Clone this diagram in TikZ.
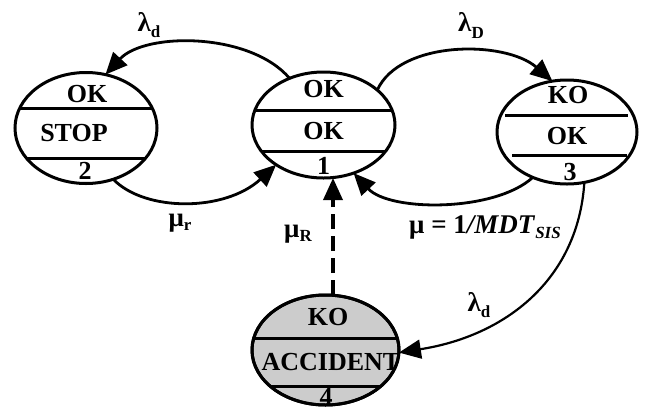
\documentclass[tikz,border=0pt]{standalone}
\usepackage{fontspec}
\setmainfont{Liberation Serif}
\usetikzlibrary{arrows.meta,shapes.geometric}
\tikzset{
  stt/.style={ellipse, draw, line width=3pt, inner sep=0pt, outer sep=0pt},
  txt/.style={font=\fontsize{26}{26}\selectfont\bfseries, inner sep=0pt},
  lbl/.style={font=\fontsize{27}{27}\selectfont\bfseries, inner sep=0pt},
  chord/.style={line width=3pt},
  trans/.style={line width=2.8pt, -{Triangle[length=22pt,width=19pt]}},
}
\newcommand{\sbs}[1]{\fontsize{17}{17}\selectfont #1}
\begin{document}
\begin{tikzpicture}[x=1pt,y=-1pt]
\useasboundingbox (0,0) rectangle (647,410);
% state 4 fill
\node[stt, fill=gray!40, minimum width=147pt, minimum height=110pt] (s4) at (325.5,350) {};
% states
\node[stt, minimum width=143pt, minimum height=106pt] (s1) at (323.5,125) {};
\node[stt, minimum width=142pt, minimum height=111pt] (s2) at (86,128) {};
\node[stt, minimum width=140pt, minimum height=104pt] (s3) at (567,132) {};
% chords
\begin{scope}
\clip (323.5,125) ellipse [x radius=71.5pt, y radius=53pt];
\draw[chord] (240,110) -- (410,110);
\draw[chord] (240,151) -- (410,151);
\end{scope}
\begin{scope}
\clip (86,128) ellipse [x radius=71pt, y radius=55.5pt];
\draw[chord] (0,108) -- (170,108);
\draw[chord] (0,158) -- (170,158);
\end{scope}
\draw[chord] (505,115) -- (628,115);
\draw[chord] (512,155) -- (627,155);
\begin{scope}
\clip (325.5,350) ellipse [x radius=73.5pt, y radius=55pt];
\draw[chord] (240,338) -- (410,338);
\draw[chord] (240,386) -- (410,386);
\end{scope}
% redraw outline on top
\node[stt, minimum width=147pt, minimum height=110pt] (s4o) at (325.5,350) {};
% texts
\node[txt] (t1a) at (323.5,89) {OK};
\node[txt] (t1b) at (323.5,131) {OK};
\node[txt] (t1c) at (323.5,166) {1};
\node[txt] (t2a) at (87,94) {OK};
\node[txt] (t2b) at (74,133) {STOP};
\node[txt] (t2c) at (85,171) {2};
\node[txt] (t3a) at (568,95) {KO};
\node[txt] (t3b) at (567,136) {OK};
\node[txt] (t3c) at (570,172) {3};
\node[txt] (t4a) at (328,317) {KO};
\node[txt] (t4b) at (331,362) {ACCIDENT};
\node[txt] (t4c) at (326,397) {4};
% transitions
\draw[trans] (s1.126) .. controls (250,32) and (145,32) .. (s2.70);
\draw[trans] (s2.-62) .. controls (145,212) and (225,212) .. (s1.220);
\draw[trans] (s1.33) .. controls (400,40) and (505,40) .. (s3.106);
\draw[trans] (s3.233) .. controls (495,212) and (390,212) .. (s1.-58);
\draw[trans, line width=2.2pt] (s3.-71) .. controls (578,280) and (505,336) .. (s4.-2);
\draw[trans, line width=3.5pt, dash pattern=on 15pt off 7pt] ([xshift=7.5pt]s4.north) -- ([xshift=9.5pt]s1.south);
% labels
\node[lbl] (l1) at (149,25) {λ\raisebox{-6pt}{\sbs{d}}};
\node[lbl] (l2) at (471,26) {λ\raisebox{-7pt}{\sbs{D}}};
\node[lbl] (l3) at (180,223) {μ\raisebox{-4pt}{\sbs{r}}};
\node[lbl] (l4) at (298,234) {μ\raisebox{-4pt}{\sbs{R}}};
\node[lbl] (l5) at (485,227) {μ = 1\textit{/MDT}\raisebox{-5pt}{\sbs{\textit{SIS}}}};
\node[lbl] (l6) at (479,305) {λ\raisebox{-6pt}{\sbs{d}}};
\end{tikzpicture}
\end{document}
